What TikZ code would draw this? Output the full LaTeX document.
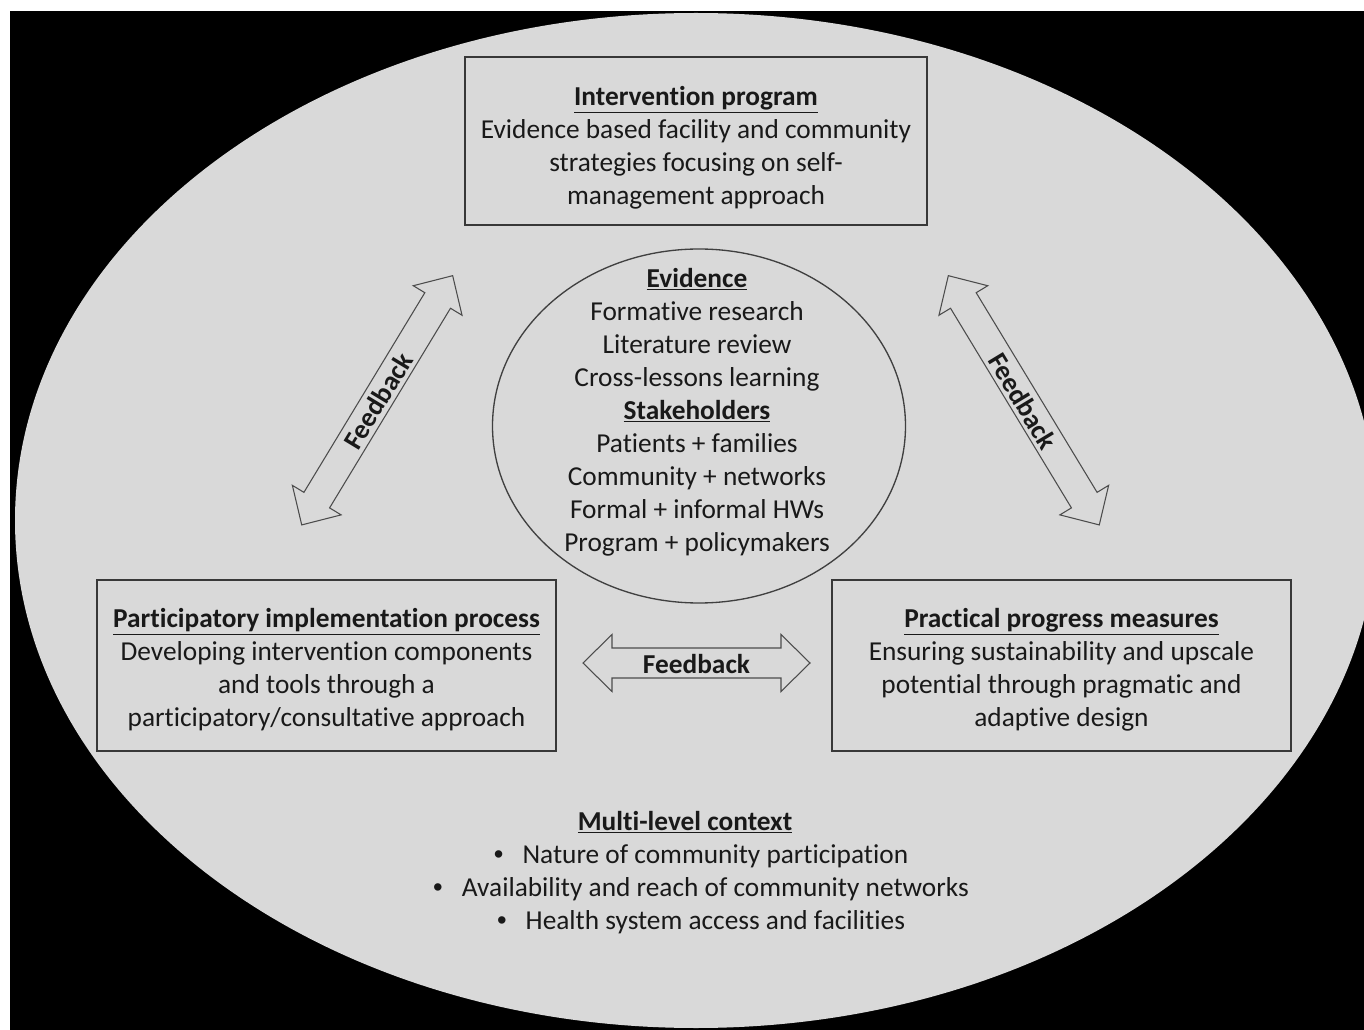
\documentclass[tikz,border=0pt]{standalone}
\usepackage{fontspec}
\setmainfont[Ligatures=NoCommon]{Carlito}
\newfontfamily\bulletfont{Liberation Sans}
\usetikzlibrary{shapes.geometric}
\newcommand\blockarr[4]{%
  \begin{scope}[shift={(#1,#2)}, rotate=#3]
    \draw[barrow] (-#4,0) -- (-#4+29,28.5) -- (-#4+29,15) -- (#4-29,15) -- (#4-29,28.5) -- (#4,0)
      -- (#4-29,-28.5) -- (#4-29,-15) -- (-#4+29,-15) -- (-#4+29,-28.5) -- cycle;
  \end{scope}}
\newcommand\bul{{\bulletfont •}\hspace{0.7em}}
\begin{document}
\begin{tikzpicture}[x=0.75pt,y=-0.75pt,
  txt/.style={font=\fontsize{20.5}{24.75}\selectfont, text=black!90, align=center, inner sep=0pt},
  box/.style={draw=black!78, line width=1.1pt, rectangle, inner sep=0pt},
  barrow/.style={draw=black!70, line width=0.8pt, fill=black!15, line join=miter},
  fb/.style={font=\fontsize{20.5}{24.75}\selectfont\bfseries, text=black!90, inner sep=0pt}]
\useasboundingbox (0,0) rectangle (1364,1030);
\clip (0,0) rectangle (1364,1030);
\fill[white] (0,0) rectangle (1364,1030);
\fill[black] (10,11) rectangle (1364,1030);
\fill[black!15] (696,520.5) ellipse [x radius=681, y radius=507.5];

% boxes
\node[box, minimum width=346.5pt, minimum height=126pt] (prog) at (696,141) {};
\node[txt] (progtext) at (696,148)
  {\underline{\textbf{Intervention program}}\\Evidence based facility and community\\strategies focusing on self-\\management approach};
\node[box, minimum width=344.25pt, minimum height=128.25pt] (impl) at (326.5,665.5) {};
\node[txt] (impltext) at (326.5,670)
  {\underline{\textbf{Participatory implementation process}}\\Developing intervention components\\and tools through a\\participatory/consultative approach};
\node[box, minimum width=344.25pt, minimum height=128.25pt] (meas) at (1061.5,665.5) {};
\node[txt] (meastext) at (1061.5,670)
  {\underline{\textbf{Practical progress measures}}\\Ensuring sustainability and upscale\\potential through pragmatic and\\adaptive design};

% central ellipse
\node[draw=black!75, line width=1pt, ellipse, inner sep=0pt, minimum width=309.75pt, minimum height=265.5pt] (core) at (699,426) {};
\node[txt] (coretext) at (697,412)
  {\underline{\textbf{Evidence}}\\Formative research\\Literature review\\Cross-lessons learning\\\underline{\textbf{Stakeholders}}\\Patients + families\\Community + networks\\Formal + informal HWs\\Program + policymakers};

% feedback arrows
\blockarr{377.2}{400.3}{58.8}{145.7}
\blockarr{1023.8}{400.3}{-58.8}{145.7}
\blockarr{696.5}{663}{0}{113.5}
\node[fb, rotate=58.8] (fbl) at (378,401) {Feedback};
\node[fb, rotate=-58.8] (fbr) at (1023,401) {Feedback};
\node[fb] (fbh) at (696.5,664) {Feedback};

% context
\node[txt] (ctxhead) at (685,822) {\underline{\textbf{Multi-level context}}};
\node[txt] (ctxlist) at (701,889)
  {\bul Nature of community participation\\\bul Availability and reach of community networks\\\bul Health system access and facilities};
\end{tikzpicture}
\end{document}
